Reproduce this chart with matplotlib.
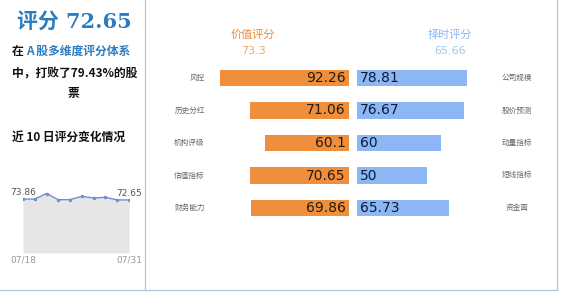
import matplotlib.pyplot as plt
from matplotlib.lines import Line2D
import numpy as np

plt.rcParams['font.family'] = ['Noto Sans CJK SC', 'DejaVu Sans']

# data
value_labels = ['风控', '历史分红', '机构评级', '估值指标', '财务能力']
value_scores = [92.26, 71.06, 60.1, 70.65, 69.86]
timing_labels = ['公司规模', '股价预测', '动量指标', '短线指标', '资金面']
timing_scores = [78.81, 76.67, 60, 50, 65.73]
value_total = 73.3
timing_total = 65.66
total_score = 72.65
beat_pct = 79.43
hist_dates = ['07/18', '07/31']
hist_scores = [73.86, 73.9, 81.5, 73.0, 73.1, 77.5, 75.4, 76.2, 72.7, 72.65]

W, H = 562, 293
orange = '#EF8E3D'
blue = '#8DB6F4'


def fx(px):
    return px / W


def fy(py):
    return 1 - py / H


fig = plt.figure(figsize=(W / 100, H / 100), dpi=100)
fig.patch.set_facecolor('white')

# border lines
line_c = '#A9C7E6'
fig.add_artist(Line2D([fx(145), fx(145)], [fy(0), fy(290)], color=line_c, lw=0.9))
fig.add_artist(Line2D([fx(0), fx(557)], [fy(290), fy(290)], color=line_c, lw=0.9))
fig.add_artist(Line2D([fx(557), fx(557)], [fy(0), fy(290)], color=line_c, lw=0.9))

# left panel text
fig.text(fx(74), fy(22), '评分 %.2f' % total_score, ha='center', va='center',
         fontsize=15, fontweight='bold', color='#2B7CC1',
         family=['DejaVu Serif', 'Noto Sans CJK SC'])
fig.text(fx(12), fy(51), '在', ha='left', va='center', fontsize=8.5,
         fontweight='bold', color='#111111')
fig.text(fx(26), fy(51), 'A 股多维度评分体系', ha='left', va='center', fontsize=8.5,
         fontweight='bold', color='#2B7CC1')
fig.text(fx(12), fy(73), '中，打败了%.2f%%的股' % beat_pct, ha='left', va='center',
         fontsize=8.5, fontweight='bold', color='#111111')
fig.text(fx(73), fy(93), '票', ha='center', va='center', fontsize=8.5,
         fontweight='bold', color='#111111')
fig.text(fx(12), fy(137), '近 10 日评分变化情况', ha='left', va='center', fontsize=8.5,
         fontweight='bold', color='#111111')

# small history chart
axh = fig.add_axes([fx(23), fy(253), fx(129) - fx(23), fy(180) - fy(253)])
xs = np.arange(len(hist_scores))
axh.fill_between(xs, hist_scores, 0, color='#E6E6E6', lw=0)
axh.plot(xs, hist_scores, color='#6F8FD3', lw=1, marker='o', ms=1.5)
axh.set_xlim(xs[0], xs[-1])
axh.set_ylim(0, 100)
axh.axis('off')
axh.text(xs[0], hist_scores[0] + 3, '%.2f' % hist_scores[0], ha='center', va='bottom',
         fontsize=6.5, color='#555555', family='DejaVu Sans', clip_on=False)
axh.text(xs[-1], hist_scores[-1] + 3, '%.2f' % hist_scores[-1], ha='center', va='bottom',
         fontsize=6.5, color='#555555', family='DejaVu Sans', clip_on=False)
axh.text(xs[0], -3, hist_dates[0], ha='center', va='top', fontsize=6.5,
         color='#999999', family='DejaVu Sans', clip_on=False)
axh.text(xs[-1], -3, hist_dates[-1], ha='center', va='top', fontsize=6.5,
         color='#999999', family='DejaVu Sans', clip_on=False)

# bar panels
top_px, bot_px = 61.75, 224.25
axl = fig.add_axes([fx(209), fy(bot_px), fx(349) - fx(209), fy(top_px) - fy(bot_px)])
axr = fig.add_axes([fx(357), fy(bot_px), fx(497) - fx(357), fy(top_px) - fy(bot_px)])
rows = np.arange(len(value_scores))

axl.barh(rows, value_scores, height=0.5, color=orange)
axl.set_xlim(100, 0)
axl.set_ylim(4.5, -0.5)
axl.axis('off')
for r, v, lab in zip(rows, value_scores, value_labels):
    axl.text(2.5, r, str(v), ha='right', va='center', fontsize=10,
             color='#2A1A0A', family='DejaVu Sans')
    axl.text(103, r, lab, ha='right', va='center', fontsize=5.5,
             color='#666666', clip_on=False)

axr.barh(rows, timing_scores, height=0.5, color=blue)
axr.set_xlim(0, 100)
axr.set_ylim(4.5, -0.5)
axr.axis('off')
for r, v, lab in zip(rows, timing_scores, timing_labels):
    axr.text(2, r, str(v), ha='left', va='center', fontsize=10,
             color='#0D1B33', family='DejaVu Sans')
    axr.text(114.5, r, lab, ha='center', va='center', fontsize=5.5,
             color='#666666', clip_on=False)

# headers
fig.text(fx(253), fy(35), '价值评分', ha='center', va='center', fontsize=8,
         color='#E58C40')
fig.text(fx(253), fy(51), str(value_total), ha='center', va='center', fontsize=8,
         color='#EDA86A', family='DejaVu Sans')
fig.text(fx(450), fy(35), '择时评分', ha='center', va='center', fontsize=8,
         color='#8DB3EA')
fig.text(fx(450), fy(51), str(timing_total), ha='center', va='center', fontsize=8,
         color='#A5C3EE', family='DejaVu Sans')

fig.savefig('out.png', dpi=100)
